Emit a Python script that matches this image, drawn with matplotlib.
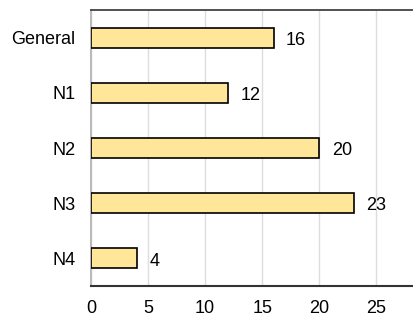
import matplotlib
matplotlib.use('Agg')
import matplotlib.pyplot as plt

categories = ['General', 'N1', 'N2', 'N3', 'N4']
counts = [16, 12, 20, 23, 4]

plt.rcParams['font.family'] = ['Liberation Sans', 'DejaVu Sans']

fig = plt.figure(figsize=(4.14, 3.19), dpi=100)
ax = fig.add_axes([91/414, 1 - 286/319, 1 - 91/414, 276/319])

ypos = range(len(categories))
ax.barh(ypos, counts, height=0.36, color='#FFE699', edgecolor='black', linewidth=1.2, zorder=3)
for y, v in zip(ypos, counts):
    ax.annotate(str(v), (v, y), xytext=(9, -0.5), textcoords='offset points',
                va='center_baseline', ha='left', fontsize=13)

ax.set_yticks(list(ypos))
ax.set_yticklabels(categories, fontsize=13)
ax.set_ylim(4.5, -0.5)
ax.set_xlim(0, 28.3)
ax.set_xticks([0, 5, 10, 15, 20, 25])
ax.tick_params(axis='x', labelsize=13, length=0, pad=10)
ax.tick_params(axis='y', length=0, pad=11)
ax.grid(axis='x', color='#dddddd', linewidth=1, zorder=0)
ax.spines['right'].set_visible(False)
ax.spines['left'].set_color('#bbbbbb')
ax.spines['left'].set_linewidth(1.5)
ax.spines['top'].set_color('#333333')
ax.spines['bottom'].set_color('#333333')
ax.spines['top'].set_linewidth(1.2)
ax.spines['bottom'].set_linewidth(1.5)

fig.savefig('out.png', dpi=100)
